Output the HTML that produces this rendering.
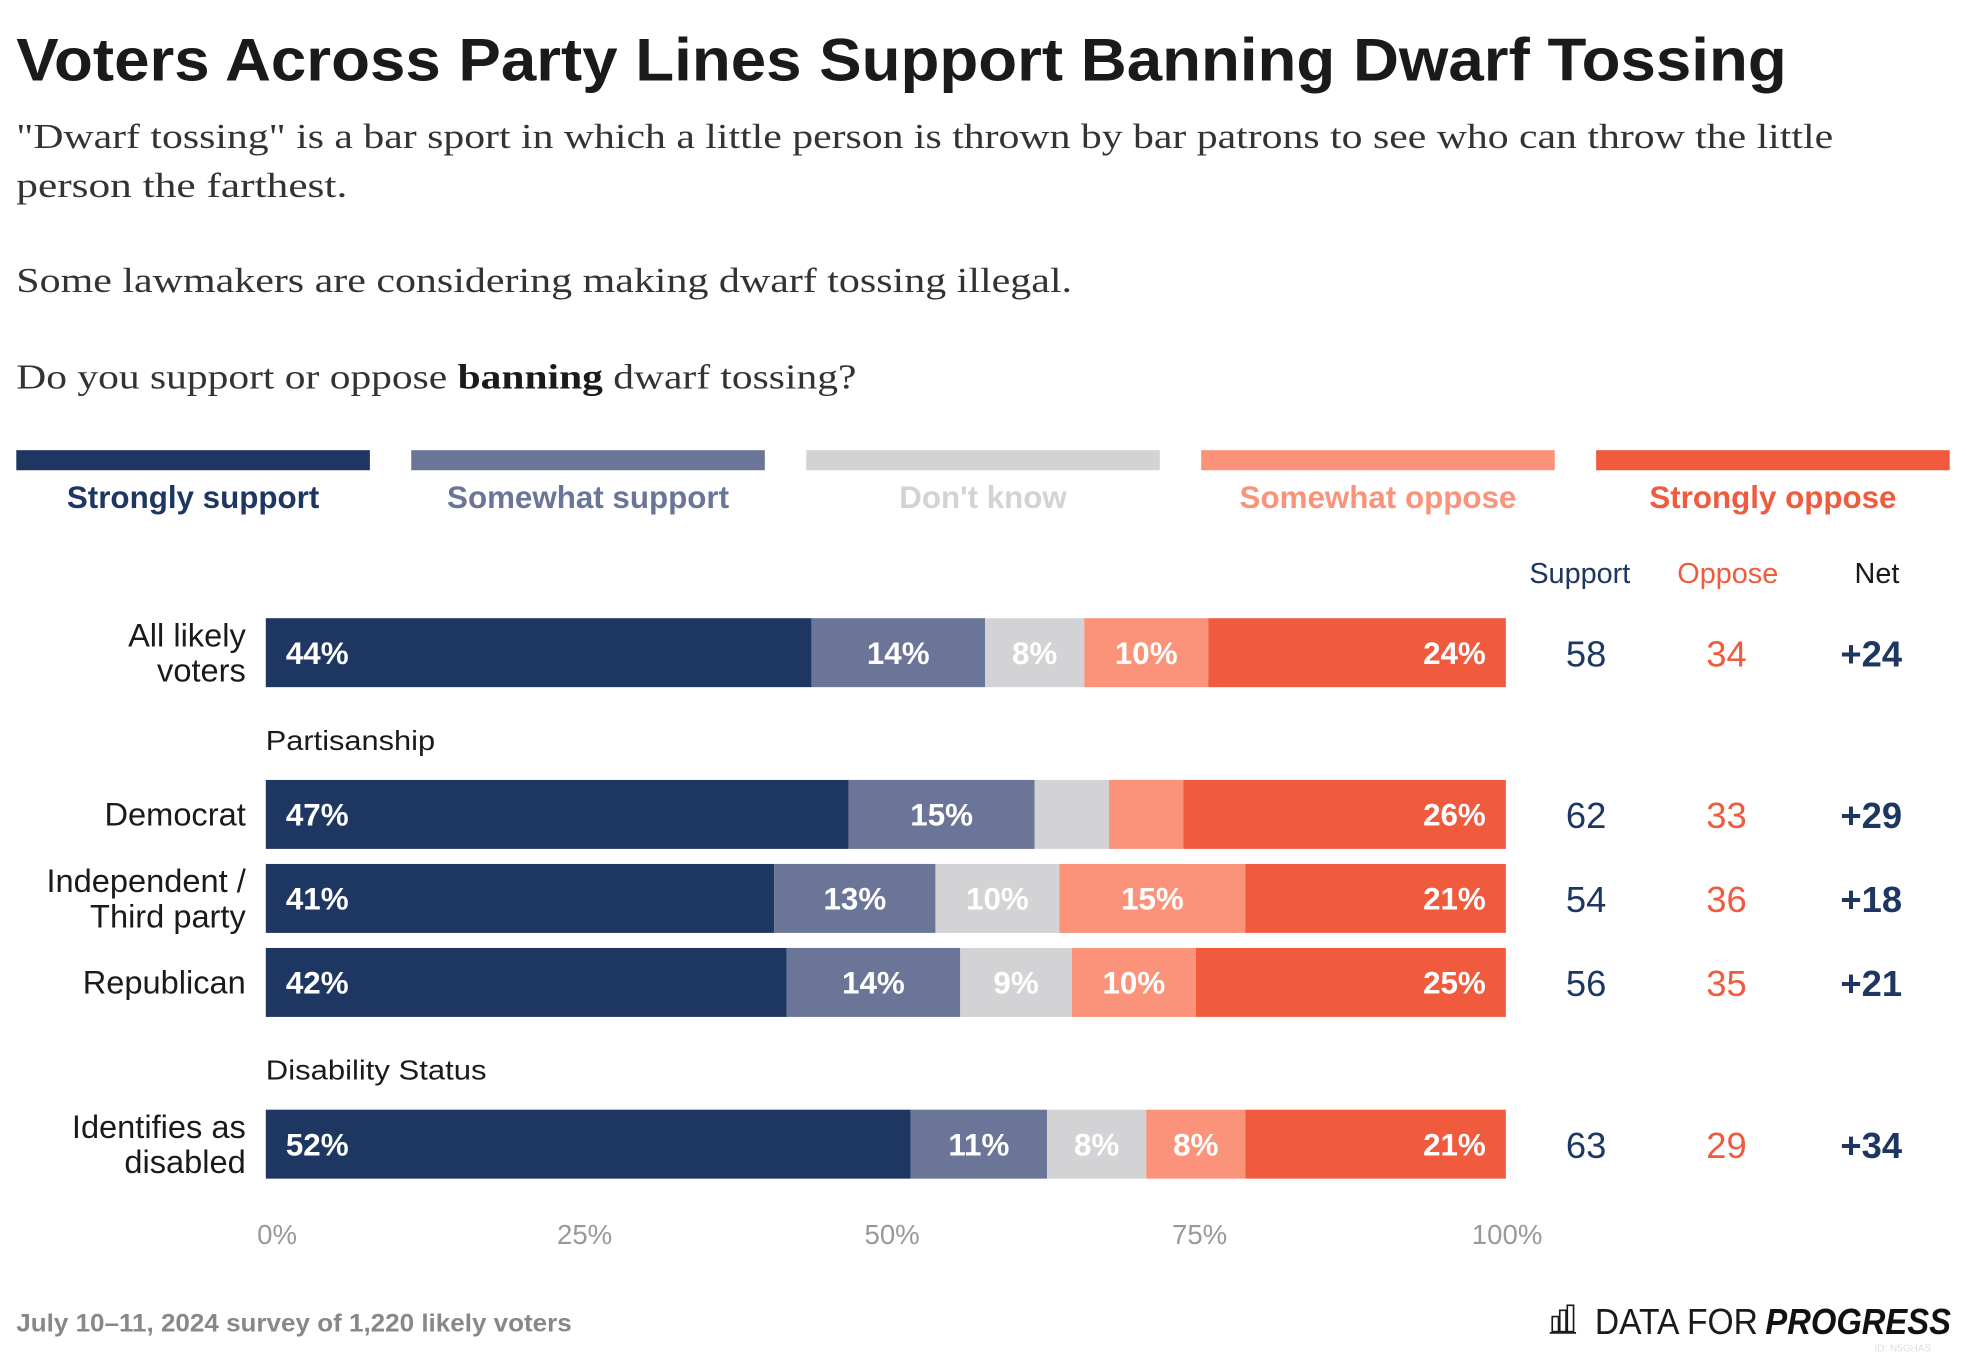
<!DOCTYPE html>
<html><head><meta charset="utf-8"><style>
html,body{margin:0;padding:0;background:#fff;width:1966px;height:1356px;overflow:hidden}
svg{display:block}
</style></head><body>
<svg id="chart" width="1966" height="1356" viewBox="0 0 1568 1081.4" xmlns="http://www.w3.org/2000/svg" font-family="Liberation Sans, sans-serif">
<text x="13" y="64" font-size="48" font-weight="bold" fill="#1a1a1a" textLength="1412" lengthAdjust="spacingAndGlyphs">Voters Across Party Lines Support Banning Dwarf Tossing</text>
<g font-family="Liberation Serif, serif" font-size="28" fill="#333" lengthAdjust="spacingAndGlyphs">
<text x="13" y="118" textLength="1449" lengthAdjust="spacingAndGlyphs">"Dwarf tossing" is a bar sport in which a little person is thrown by bar patrons to see who can throw the little</text>
<text x="13" y="157" textLength="264" lengthAdjust="spacingAndGlyphs">person the farthest.</text>
<text x="13" y="233" textLength="842" lengthAdjust="spacingAndGlyphs">Some lawmakers are considering making dwarf tossing illegal.</text>
<text x="13" y="310" textLength="670" lengthAdjust="spacingAndGlyphs">Do you support or oppose <tspan font-weight="bold" fill="#1a1a1a">banning</tspan> dwarf tossing?</text>
</g>
<g id="legend"></g>
<g id="headers" font-size="23" text-anchor="middle">
<text x="1260" y="465" fill="#1d3762">Support</text>
<text x="1378" y="465" fill="#f05a3d">Oppose</text>
<text x="1497" y="465" fill="#1a1a1a">Net</text>
</g>
<text x="212" y="598" font-size="22" fill="#1a1a1a" textLength="135" lengthAdjust="spacingAndGlyphs">Partisanship</text>
<text x="212" y="861" font-size="22" fill="#1a1a1a" textLength="176" lengthAdjust="spacingAndGlyphs">Disability Status</text>
<g id="bars"></g>
<g id="xaxis"></g>
<text x="13" y="1062" font-size="20" font-weight="bold" fill="#888" textLength="443" lengthAdjust="spacingAndGlyphs">July 10–11, 2024 survey of 1,220 likely voters</text>
<g>
<g fill="none" stroke="#1a1a1a" stroke-width="1.3">
<rect x="1238" y="1050" width="5" height="12"/><rect x="1244" y="1045" width="5" height="17"/><rect x="1250" y="1041" width="5" height="21"/>
<line x1="1236" y1="1063" x2="1257" y2="1063"/>
</g>
<text x="1272" y="1064" font-size="29" fill="#1a1a1a" textLength="130" lengthAdjust="spacingAndGlyphs">DATA FOR</text>
<text x="1408" y="1064" font-size="29" font-weight="bold" font-style="italic" fill="#111" textLength="148" lengthAdjust="spacingAndGlyphs">PROGRESS</text>
<text x="1495" y="1078" font-size="8" fill="#ddd">ID: N5GHAS</text>
</g>
<script>
const categories = ["All likely voters","Democrat","Independent / Third party","Republican","Identifies as disabled"];
const strongSupport = [44,47,41,42,52];
const someSupport = [14,15,13,14,11];
const dontKnow = [8,6,10,9,8];
const someOppose = [10,6,15,10,8];
const strongOppose = [24,26,21,25,21];
const supportTotals = [58,62,54,56,63];
const opposeTotals = [34,33,36,35,29];
const netValues = ["+24","+29","+18","+21","+34"];
const legendLabels = ["Strongly support","Somewhat support","Don't know","Somewhat oppose","Strongly oppose"];
const tickValues = [0,25,50,75,100];
const tickLabels = ["0%","25%","50%","75%","100%"];

const NS="http://www.w3.org/2000/svg";
const colors=["#1d3762","#6b7597","#d3d3d5","#fb937a","#f05a3d"];
const rowTops=[493,622,689,756,885];
const labelLines=[["All likely","voters"],["Democrat"],["Independent /","Third party"],["Republican"],["Identifies as","disabled"]];
const barH=55, x0=212, x1=1201;
const xs=v=>x0+(x1-x0)*v/100;
function mk(tag,attrs,parent){const e=document.createElementNS(NS,tag);for(const k in attrs)e.setAttribute(k,attrs[k]);parent.appendChild(e);return e;}

const leg=document.getElementById('legend');
legendLabels.forEach((l,i)=>{
  const lx=13+i*315;
  const r=mk('rect',{x:lx,y:359,width:282,height:16,fill:colors[i]},leg);
  
  
  const t=mk('text',{x:lx+141,y:405,'font-size':25,'font-weight':'bold','text-anchor':'middle',fill:colors[i]},leg);
  
  
  t.textContent=l;
});

const bars=document.getElementById('bars');
const series=[strongSupport,someSupport,dontKnow,someOppose,strongOppose];
categories.forEach((c,ri)=>{
  const y=rowTops[ri];
  const lines=labelLines[ri];
  const lg=mk('text',{'font-size':26,'text-anchor':'end',fill:'#1a1a1a'},bars);
  
  
  lines.forEach((ln,li)=>{
    const ty=lines.length===1? y+barH/2+9 : y+barH/2-5+li*28;
    const ts=mk('tspan',{x:196,y:ty},lg);ts.textContent=ln;
  });
  let cum=0;
  series.forEach((s,si)=>{
    const v=s[ri];
    const a=xs(cum), b=xs(cum+v);
    const r=mk('rect',{x:a,y:y,width:b-a,height:barH,fill:colors[si]},bars);
    
    
    if(v>=8){
      let tx,anchor;
      if(si===0){tx=a+16;anchor='start';}
      else if(si===4){tx=b-16;anchor='end';}
      else {tx=(a+b)/2;anchor='middle';}
      const t=mk('text',{x:tx,y:y+barH/2+9,'font-size':25,'font-weight':'bold','text-anchor':anchor,fill:'#fff'},bars);
      
      
      t.textContent=v+'%';
    }
    cum+=v;
  });
  const cy=y+barH/2+11;
  const s1=mk('text',{x:1265,y:cy,'font-size':29,'text-anchor':'middle',fill:'#1d3762'},bars);
  
  
  s1.textContent=supportTotals[ri];
  const o1=mk('text',{x:1377,y:cy,'font-size':29,'text-anchor':'middle',fill:'#f05a3d'},bars);
  
  
  o1.textContent=opposeTotals[ri];
  const n1=mk('text',{x:1517,y:cy,'font-size':29,'font-weight':'bold','text-anchor':'end',fill:'#1d3762'},bars);
  
  
  n1.textContent=netValues[ri];
});

const xa=document.getElementById('xaxis');
tickValues.forEach((v,i)=>{
  const tx=xs(v)+9-8*v/100;
  const t=mk('text',{x:tx,y:992,'font-size':22,'text-anchor':'middle',fill:'#999'},xa);
  
  
  t.textContent=tickLabels[i];
});
</script>
</svg>
</body></html>
